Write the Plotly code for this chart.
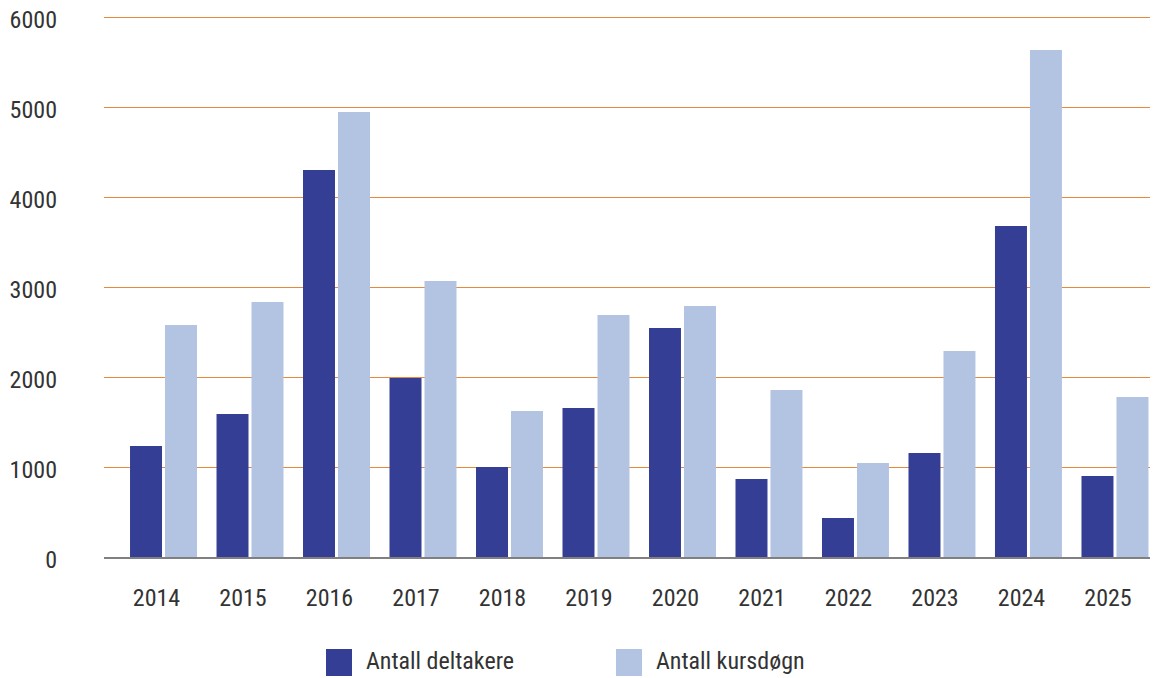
import plotly.graph_objects as go

years = [2014, 2015, 2016, 2017, 2018, 2019, 2020, 2021, 2022, 2023, 2024, 2025]
deltakere = [1233, 1589, 4300, 1989, 1000, 1656, 2544, 867, 433, 1156, 3678, 900]
kursdogn = [2578, 2833, 4944, 3067, 1622, 2689, 2789, 1856, 1044, 2289, 5633, 1778]
names = ["Antall deltakere", "Antall kursdøgn"]
colors = ["#343E94", "#B3C4E3"]
yticks = [0, 1000, 2000, 3000, 4000, 5000, 6000]

W, H = 1154, 678
ml, mr, mt, mb = 104, 4, 12, 121
pw, ph = W - ml - mr, H - mt - mb

FONT = "Liberation Sans Narrow, Roboto Condensed, DejaVu Sans Condensed, sans-serif"
FS = 24

fig = go.Figure()
for name, vals, col in zip(names, [deltakere, kursdogn], colors):
    fig.add_trace(go.Bar(x=years, y=vals, name=name, marker_color=col,
                         marker_line_width=0, showlegend=False))

fig.update_layout(
    width=W, height=H,
    margin=dict(l=ml, r=mr, t=mt, b=mb, pad=0, autoexpand=False),
    paper_bgcolor="white", plot_bgcolor="white",
    barmode="group", bargap=0.191, bargroupgap=0.0857,
    font=dict(family=FONT, size=FS, color="#333333"),
)
fig.update_xaxes(
    type="linear", range=[2013.312, 2025.405], automargin=False,
    tickvals=years, ticktext=[str(y) for y in years],
    showgrid=False, zeroline=False,
    showline=True, linecolor="#808080", linewidth=2,
    ticks="", ticklabelstandoff=18, ticklabelshift=-7,
)
fig.update_yaxes(
    range=[0, 6000 * ph / 540], tickvals=yticks, automargin=False,
    showgrid=True, gridcolor="#E8883A", gridwidth=1,
    zeroline=False, showline=False, ticks="",
    ticklabelstandoff=46, ticklabelshift=3,
)

# legend drawn manually
def px_x(x):
    return (x - ml) / pw

def px_y(y):
    return (H - mb - y) / ph

leg_x = [326, 616]
for name, col, lx in zip(names, colors, leg_x):
    fig.add_shape(type="rect", xref="paper", yref="paper",
                  x0=px_x(lx), x1=px_x(lx + 26), y0=px_y(676), y1=px_y(649),
                  fillcolor=col, line_width=0)
    fig.add_annotation(xref="paper", yref="paper", x=px_x(lx + 38), y=px_y(661),
                       text=name, showarrow=False, xanchor="left", yanchor="middle",
                       font=dict(family=FONT, size=FS, color="#333333"))

fig.write_html("out.html", config={"displayModeBar": False},
               post_script="document.body.style.margin='0';document.body.style.overflow='hidden';")
